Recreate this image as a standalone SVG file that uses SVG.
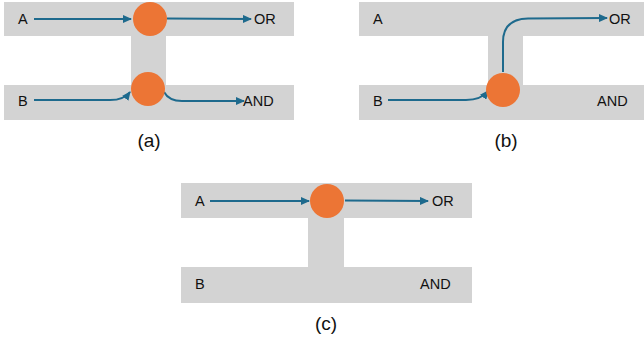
<svg xmlns="http://www.w3.org/2000/svg" width="644" height="343" viewBox="0 0 644 343">
<style>
.bar{fill:#d3d3d3}
.gate{fill:#ec7535}
.wire{fill:none;stroke:#1e6a8d;stroke-width:2}
.t{font-family:"Liberation Sans",Arial,sans-serif;font-size:14.5px;fill:#111}
.cap{font-family:"Liberation Sans",Arial,sans-serif;font-size:19px;fill:#111;text-anchor:middle}
</style>
<defs>
<marker id="ah" markerUnits="userSpaceOnUse" markerWidth="9" markerHeight="8" refX="8" refY="4" orient="auto">
<path d="M0,0 L9,4 L0,8 Z" fill="#1e6a8d"/>
</marker>
</defs>
<g id="panel-a">
<rect class="bar" x="4" y="2" width="290" height="34"/>
<rect class="bar" x="131" y="35" width="35" height="51"/>
<rect class="bar" x="4" y="85" width="290" height="35"/>
<text class="t" x="18" y="24">A</text>
<text class="t" x="254" y="24">OR</text>
<text class="t" x="18" y="106">B</text>
<text class="t" x="243" y="106">AND</text>
<text class="cap" x="149" y="147">(a)</text>
</g>
<g id="panel-b">
<rect class="bar" x="359" y="2" width="285" height="34"/>
<rect class="bar" x="488" y="35" width="35" height="51"/>
<rect class="bar" x="359" y="85" width="285" height="35"/>
<text class="t" x="373" y="24">A</text>
<text class="t" x="609" y="24">OR</text>
<text class="t" x="373" y="106">B</text>
<text class="t" x="597" y="106">AND</text>
<text class="cap" x="506" y="147">(b)</text>
</g>
<g id="panel-c">
<rect class="bar" x="181" y="183" width="291" height="35"/>
<rect class="bar" x="308" y="217" width="36" height="51"/>
<rect class="bar" x="181" y="267" width="291" height="36"/>
<text class="t" x="195" y="206">A</text>
<text class="t" x="432" y="206">OR</text>
<text class="t" x="195" y="289">B</text>
<text class="t" x="420" y="289">AND</text>
<text class="cap" x="326" y="330">(c)</text>
</g>
<g id="connectors">
<path class="wire" marker-end="url(#ah)" d="M34,19 L131,19"/>
<path class="wire" marker-end="url(#ah)" d="M167,18.5 L251,19"/>
<path class="wire" marker-end="url(#ah)" d="M34,100 L110,100 Q124,100 130,92"/>
<path class="wire" marker-end="url(#ah)" d="M164,92 Q169,101 182,101 L244,101"/>
<path class="wire" marker-end="url(#ah)" d="M388,100 L466,100 Q481,100 488,91"/>
<path class="wire" marker-end="url(#ah)" d="M503,72 L503,42 Q503,19 528,18.5 L607,18"/>
<path class="wire" marker-end="url(#ah)" d="M210,201 L309,201"/>
<path class="wire" marker-end="url(#ah)" d="M345,200.5 L428,201"/>
</g>
<g id="gate-a-or"><circle class="gate" cx="150" cy="19" r="17"/></g>
<g id="gate-a-and"><circle class="gate" cx="148" cy="89" r="17"/></g>
<g id="gate-b"><circle class="gate" cx="503" cy="90" r="17"/></g>
<g id="gate-c"><circle class="gate" cx="327" cy="201" r="17"/></g>
</svg>
